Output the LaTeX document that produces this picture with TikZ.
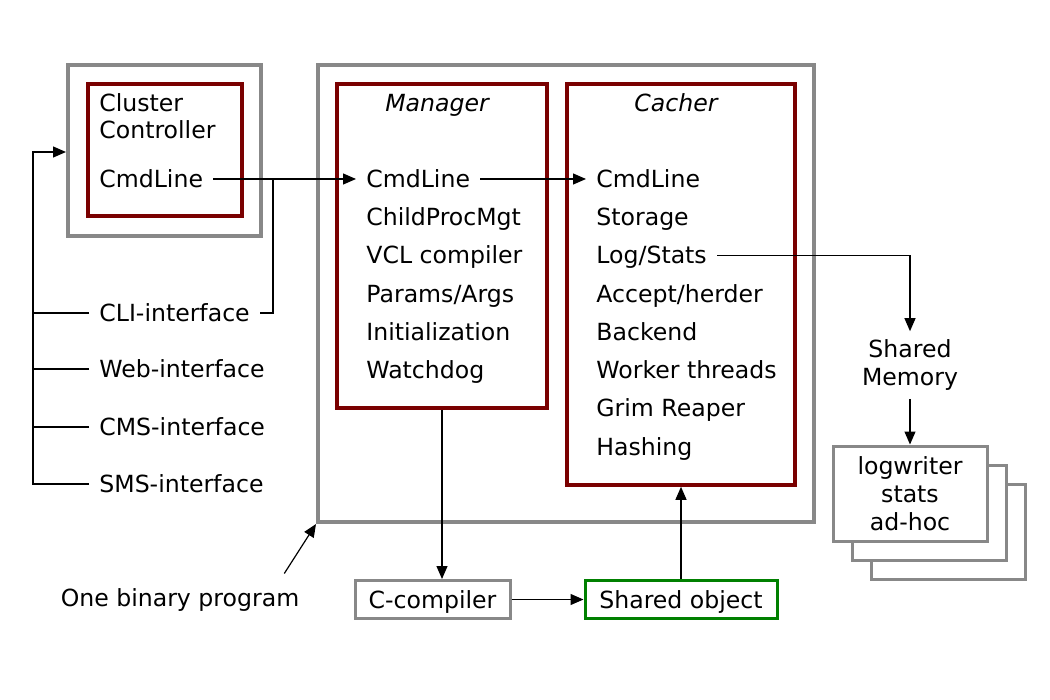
\documentclass[tikz,border=0pt]{standalone}
\usepackage{fontspec}
\setmainfont{DejaVu Sans}
\usepackage{tikz}
\usetikzlibrary{
  arrows.meta,
  positioning,
  fit,
  calc
}
\definecolor{vnGray}{HTML}{888888}
\definecolor{vnRed}{HTML}{7A0000}
\definecolor{vnGreen}{HTML}{008000}
\newcommand{\vnfont}{\fontsize{11.8}{14}\selectfont}
\tikzset{
  vnframe/.style={draw=vnGray, line width=2pt, inner sep=0pt},
  vnproc/.style={draw=vnRed, line width=1.8pt, inner sep=0pt},
  vnitem/.style={anchor=west, inner xsep=5pt, inner ysep=0pt, text height=8.6pt, text depth=0pt, font=\vnfont},
  vntitle/.style={font=\vnfont\itshape, text height=8.6pt, text depth=0pt, inner sep=0pt},
  vnlabel/.style={font=\vnfont, align=center, inner sep=4pt},
  vnbox/.style={draw=vnGray, line width=1.5pt, minimum height=19pt, inner sep=0pt, text height=8.6pt, text depth=0pt, font=\vnfont},
  vnso/.style={vnbox, draw=vnGreen},
  vnstack/.style={draw=vnGray, fill=white, line width=1.5pt, minimum width=77pt, minimum height=47.5pt, font=\vnfont, align=center},
  conn/.style={-{Triangle[length=6.5pt,width=5.5pt]}, line width=0.6pt},
  link/.style={line width=0.6pt}
}

\begin{document}
\begin{tikzpicture}[x=0.5pt, y=-0.5pt]
  \useasboundingbox (0,0) rectangle (1050,700);

  \node[vnframe, fit={(68,65) (261,236)}] (ccbox) {};
  \node[vnproc, fit={(88,84) (242,216)}] (ccproc) {};
  \node[vnframe, fit={(318,65) (814,522)}] (binary) {};
  \node[vnproc, fit={(337,84) (547,408)}] (mgr) {};
  \node[vnproc, fit={(567,84) (795,485)}] (cacher) {};

  \node[vnitem] (cc1) at (89,103) {Cluster};
  \node[vnitem] (cc2) at (89,130) {Controller};
  \node[vnitem] (cc3) at (89,179) {CmdLine};

  \node[vntitle] (mgrtitle) at (437,103) {Manager};
  \node[vntitle] (cachertitle) at (676,103) {Cacher};

  \foreach \txt [count=\i] in {CmdLine, ChildProcMgt, VCL compiler, Params/Args, Initialization, Watchdog}
    \node[vnitem] (m\i) at (356, {179+38.2*(\i-1)}) {\txt};
  \foreach \txt [count=\i] in {CmdLine, Storage, Log/Stats, Accept/herder, Backend, Worker threads, Grim Reaper, Hashing}
    \node[vnitem] (c\i) at (586, {179+38.2*(\i-1)}) {\txt};

  \node[vnitem] (cli) at (89,313) {CLI-interface};
  \node[vnitem] (web) at (89,369) {Web-interface};
  \node[vnitem] (cms) at (89,427) {CMS-interface};
  \node[vnitem] (sms) at (89,484) {SMS-interface};

  \node[vnlabel] (shm) at (910,365) {Shared\\Memory};
  \node[vnstack] (lw3) at (948,531.5) {};
  \node[vnstack] (lw2) at (929,512.5) {};
  \node[vnstack] (lw1) at (910,493.5) {logwriter\\stats\\ad-hoc};

  \node[vnbox, minimum width=77.5pt] (ccomp) at (432.5,599.5) {C-compiler};
  \node[vnso, minimum width=96pt] (shobj) at (681,599.5) {Shared object};
  \node[font=\vnfont] (obp) at (180,600) {One binary program};

  \coordinate (clijoin) at (273,179);
  \coordinate (bustop) at (33,152);

  \draw[conn] (cc3.east) -- (m1.west);
  \draw[link] (cli.east) -| (clijoin);
  \draw[conn] (m1.east) -- (c1.west);
  \draw[conn] (c3.east) -| (shm.north);
  \draw[conn] (shm.south) -- (lw1.north);
  \draw[conn] (sms.west) -| (bustop) -- (ccbox.west |- bustop);
  \foreach \n in {cli, web, cms}
    \draw[link] (\n.west) -- (\n.west -| bustop);
  \draw[conn] (mgr.south) -- (mgr.south |- ccomp.north);
  \draw[conn] (ccomp.east) -- (shobj.west);
  \draw[conn] (shobj.north) -- (cacher.south);
  \draw[conn] ($(obp.north east)+(-22,-8)$) -- (binary.south west);
\end{tikzpicture}
\end{document}
